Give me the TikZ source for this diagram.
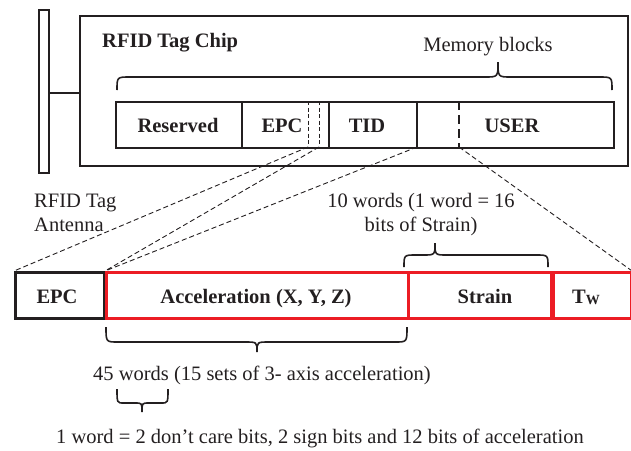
\documentclass[tikz,border=0pt]{standalone}
\usepackage{fontspec}
\setmainfont{Liberation Serif}
\definecolor{ink}{RGB}{35,31,32}
\definecolor{rred}{RGB}{236,28,36}
\newcommand\mybrace[7]{% x1,x2,xt,yend,yline,ytip,r
  \draw[bracestyle] (#1,#4) .. controls (#1,#5) .. ({#1+#7},#5) -- ({#3-#7},#5)
    .. controls (#3,#5) .. (#3,#6) .. controls (#3,#5) .. ({#3+#7},#5)
    -- ({#2-#7},#5) .. controls (#2,#5) .. (#2,#4);}
\begin{document}
\begin{tikzpicture}[x=1pt,y=-1pt,
  txt/.style={font=\fontsize{20.5}{24}\selectfont, text=ink, inner sep=0pt},
  btxt/.style={font=\fontsize{20.5}{24}\selectfont\bfseries, text=ink, inner sep=0pt},
  frame/.style={draw=ink, line width=2.2pt, inner sep=0pt, anchor=north west},
  memframe/.style={draw=ink, line width=1.8pt, inner sep=0pt, anchor=north west},
  memline/.style={draw=ink, line width=1.8pt},
  subline/.style={draw=ink, line width=0.9pt, dash pattern=on 4pt off 2.5pt},
  userline/.style={draw=ink, line width=2pt, dash pattern=on 9pt off 5pt},
  redbox/.style={draw=rred, line width=2.6pt, inner sep=0pt, anchor=north west, minimum height=46pt},
  blackbox/.style={draw=ink, line width=2.6pt, inner sep=0pt, anchor=north west, minimum height=46pt},
  conn/.style={draw=ink, line width=0.9pt, dash pattern=on 5pt off 3pt},
  bracestyle/.style={draw=ink, line width=1.6pt},
]
\useasboundingbox (0,0) rectangle (631,450);

% antenna and chip
\node[frame, minimum width=10pt, minimum height=163pt] (ant) at (38,9) {};
\node[frame, minimum width=548pt, minimum height=150pt] (chip) at (79,15) {};
\draw[ink, line width=2.2pt] (ant.east |- 0,93) -- (chip.west |- 0,93);

\node[btxt, anchor=base west] (title) at (102,47) {RFID Tag Chip};
\node[txt, anchor=base] (memlbl) at (488,51) {Memory blocks};
\mybrace{117}{612}{498}{90}{77}{62}{13}

% memory row
\node[memframe, minimum width=498pt, minimum height=46pt] (mem) at (115,101) {};
\draw[memline] (242,101) -- (242,147);
\draw[memline] (329,101) -- (329,147);
\draw[memline] (417,101) -- (417,147);
\draw[userline] (459,101) -- (459,147);
\draw[subline] (308,101) -- (308,147);
\draw[subline] (319,101) -- (319,147);
\node[btxt, anchor=base] (res) at (178,132) {Reserved};
\node[btxt, anchor=base] (epc) at (282,132) {EPC};
\node[btxt, anchor=base] (tid) at (367,132) {TID};
\node[btxt, anchor=base] (usr) at (512,132) {USER};

\coordinate (d1) at (308,147);
\coordinate (d2) at (319,147);
\coordinate (d3) at (417,147);
\coordinate (d4) at (459,147);

% labels
\node[txt, anchor=base west] (antl1) at (34,207) {RFID Tag};
\node[txt, anchor=base west] (antl2) at (34,231.5) {Antenna};
\node[txt, anchor=base] (strl1) at (421,207) {10 words (1 word = 16};
\node[txt, anchor=base] (strl2) at (421,231.5) {bits of Strain)};
\mybrace{404}{548}{435}{267}{255}{243}{12}

% bottom row
\node[blackbox, minimum width=89pt] (bepc) at (14,271) {};
\node[redbox, minimum width=302pt] (bacc) at (105,271) {};
\node[redbox, minimum width=143pt] (bstr) at (407,271) {};
\node[redbox, minimum width=77pt] (btw) at (552.5,271) {};
\node[btxt, anchor=base] (bepct) at (57,303) {EPC};
\node[btxt, anchor=base] (bacct) at (256,303) {Acceleration (X, Y, Z)};
\node[btxt, anchor=base] (bstrt) at (485,303) {Strain};
\node[btxt, anchor=base] (btwt) at (586,303) {T{\fontsize{14}{14}\selectfont\raisebox{-1.2pt}{W}}};

% connectors
\draw[conn] (d1) -- (bepc.north west);
\draw[conn] (d2) -- (bacc.north west);
\draw[conn] (d3) -- (bacc.north west);
\draw[conn] (d4) -- (btw.north east);

% lower braces and texts
\mybrace{106}{407}{257}{327}{342}{352}{12}
\node[txt, anchor=base] (accl) at (262,380) {45 words (15 sets of 3- axis acceleration)};
\mybrace{117}{168}{142}{389}{403}{412}{7}
\node[txt, anchor=base] (wordl) at (320,443) {1 word = 2 don’t care bits, 2 sign bits and 12 bits of acceleration};
\end{tikzpicture}
\end{document}
